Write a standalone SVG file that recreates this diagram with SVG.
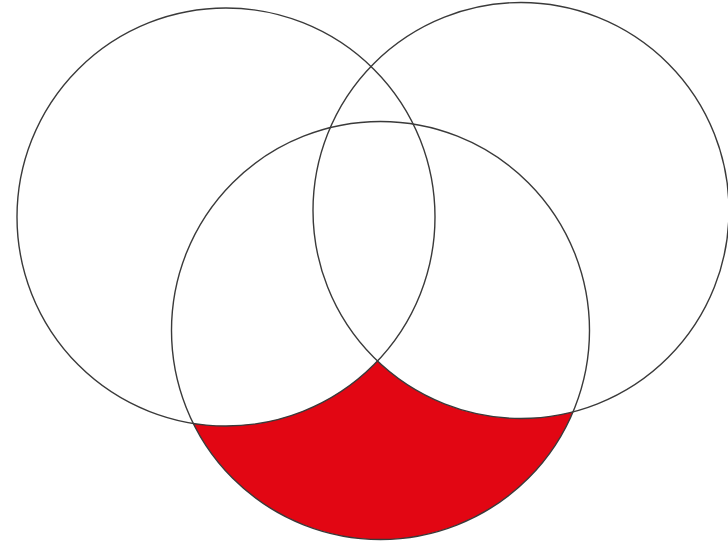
<svg xmlns="http://www.w3.org/2000/svg" width="728" height="546" viewBox="0 0 728 546">
<style>
.c{fill:none;stroke:#3a3a3a;stroke-width:1.4}
</style>
<defs>
<mask id="m">
<rect width="728" height="546" fill="#fff"/>
<circle cx="226" cy="217" r="209" fill="#000"/>
<circle cx="521" cy="210.5" r="208" fill="#000"/>
</mask>
</defs>
<rect width="728" height="546" fill="#fff"/>
<g id="region">
<circle cx="380.5" cy="330.5" r="209" fill="#e20613" mask="url(#m)"/>
</g>
<g id="setA"><circle class="c" cx="226" cy="217" r="209"/></g>
<g id="setB"><circle class="c" cx="521" cy="210.5" r="208"/></g>
<g id="setC"><circle class="c" cx="380.5" cy="330.5" r="209"/></g>
</svg>
